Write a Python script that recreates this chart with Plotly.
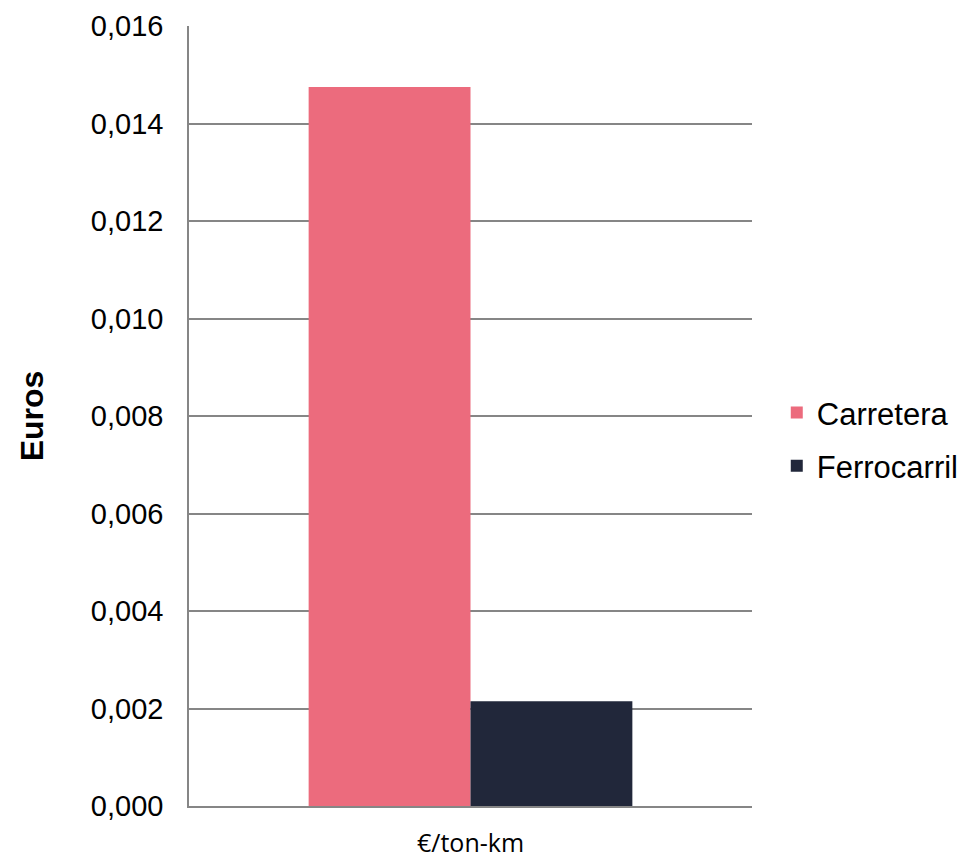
import plotly.graph_objects as go

categories = ["€/ton-km"]
series_names = ["Carretera", "Ferrocarril"]
carretera = [0.01475]
ferrocarril = [0.00215]
colors = ["#EC6B7D", "#21273A"]
y_ticks = [0, 0.002, 0.004, 0.006, 0.008, 0.010, 0.012, 0.014, 0.016]
y_tick_labels = ["0,000", "0,002", "0,004", "0,006", "0,008", "0,010", "0,012", "0,014", "0,016"]

fig = go.Figure()
for i, (name, vals) in enumerate(zip(series_names, [carretera, ferrocarril])):
    fig.add_trace(go.Bar(
        x=categories, y=vals, name=name,
        marker=dict(color=colors[i], line=dict(width=0)),
        legendgroup=name,
    ))

fig.update_layout(
    width=980, height=858,
    margin=dict(l=189, r=228, t=26, b=52),
    paper_bgcolor="white", plot_bgcolor="white",
    barmode="group", bargap=0.425, bargroupgap=0,
    font=dict(family="Liberation Sans, Arial, sans-serif", color="black"),
    showlegend=True,
    legend=dict(
        x=1.044, y=0.470, xanchor="left", yanchor="middle",
        font=dict(size=31, family="Liberation Sans, Arial, sans-serif"),
        traceorder="grouped", tracegroupgap=10,
        bgcolor="rgba(0,0,0,0)",
    ),
)
fig.update_yaxes(
    range=[0, 0.016], tickvals=y_ticks, ticktext=y_tick_labels,
    showgrid=True, gridcolor="#868686", gridwidth=1.5,
    showline=True, linecolor="#868686", linewidth=1.5,
    ticks="", tickfont=dict(size=29), ticklabelstandoff=18,
    title=dict(text="<b>Euros</b>", font=dict(size=32), standoff=38),
    zeroline=False, automargin=False,
)
fig.update_xaxes(
    showline=True, linecolor="#868686", linewidth=1.5,
    ticks="", tickfont=dict(size=25, family="Open Sans, sans-serif"),
    ticklabelstandoff=14,
    showgrid=False, automargin=False,
)
fig.write_html("out.html")
